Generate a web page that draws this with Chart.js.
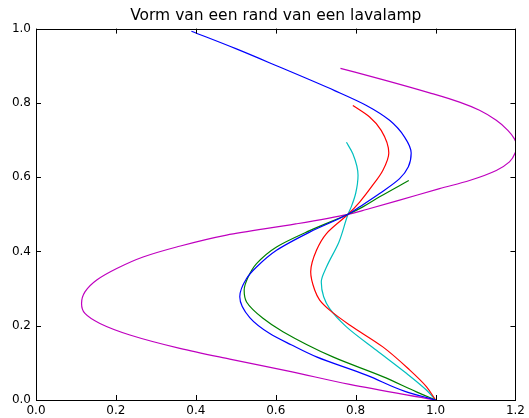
<!DOCTYPE html>
<html>
<head>
<meta charset="utf-8">
<script src="https://cdn.jsdelivr.net/npm/chart.js@4/dist/chart.umd.min.js"></script>
<style>
  html, body { margin: 0; padding: 0; background: #fff; }
  #wrap { width: 529px; height: 418px; }
</style>
</head>
<body>
<div id="wrap"><canvas id="myChart" width="529" height="418"></canvas></div>
<script>
// Values (x against height y)
const blueX  = [0.389, 0.50, 0.602, 0.7475, 0.827, 0.885, 0.9225, 0.939, 0.932, 0.91, 0.86, 0.81, 0.781, 0.685, 0.602, 0.552, 0.527, 0.51, 0.535, 0.585, 0.64, 0.702, 0.827, 0.927, 1.0];
const blueY  = [0.993, 0.946, 0.90, 0.833, 0.793, 0.753, 0.708, 0.665, 0.628, 0.596, 0.556, 0.52, 0.50, 0.452, 0.403, 0.358, 0.327, 0.278, 0.222, 0.179, 0.148, 0.116, 0.067, 0.022, 0.0];

const greenX = [0.933, 0.86, 0.818, 0.781, 0.685, 0.602, 0.552, 0.531, 0.521, 0.527, 0.568, 0.618, 0.743, 0.868, 0.952, 1.0];
const greenY = [0.591, 0.547, 0.52, 0.50, 0.456, 0.412, 0.367, 0.331, 0.296, 0.264, 0.22, 0.184, 0.116, 0.063, 0.022, 0.0];

const redX   = [0.793, 0.835, 0.864, 0.883, 0.868, 0.839, 0.81, 0.781, 0.727, 0.702, 0.6875, 0.6975, 0.71, 0.735, 0.785, 0.868, 0.935, 0.977, 1.0];
const redY   = [0.793, 0.762, 0.726, 0.665, 0.618, 0.573, 0.533, 0.50, 0.448, 0.403, 0.345, 0.296, 0.269, 0.242, 0.202, 0.143, 0.081, 0.036, 0.0];

const cyanX  = [0.777, 0.793, 0.806, 0.80, 0.789, 0.781, 0.758, 0.727, 0.714, 0.72, 0.735, 0.777, 0.852, 0.927, 0.977, 1.0];
const cyanY  = [0.694, 0.663, 0.605, 0.556, 0.52, 0.50, 0.425, 0.358, 0.318, 0.278, 0.246, 0.197, 0.134, 0.072, 0.027, 0.0];

const magX   = [0.762, 0.87, 0.985, 1.06, 1.11, 1.152, 1.181, 1.1975, 1.203, 1.20, 1.185, 1.152, 1.085, 1.01, 0.91, 0.827, 0.781, 0.65, 0.477, 0.352, 0.268, 0.202, 0.152, 0.1225, 0.114, 0.1225, 0.16, 0.235, 0.36, 0.485, 0.635, 0.785, 1.0];
const magY   = [0.893, 0.862, 0.827, 0.802, 0.78, 0.753, 0.726, 0.703, 0.685, 0.667, 0.641, 0.618, 0.591, 0.569, 0.538, 0.513, 0.50, 0.474, 0.444, 0.412, 0.385, 0.354, 0.323, 0.291, 0.26, 0.233, 0.206, 0.175, 0.139, 0.110, 0.077, 0.042, 0.0];

const xTicks = [0.0, 0.2, 0.4, 0.6, 0.8, 1.0, 1.2];
const yTicks = [0.0, 0.2, 0.4, 0.6, 0.8, 1.0];

function toPoints(xs, ys) {
    return xs.map((x, i) => ({ x: x, y: ys[i] }));
}

// each curve is x as a function of y, so interpolate along the y axis
function line(label, xs, ys, color) {
    return {
        label: label,
        data: toPoints(xs, ys),
        borderColor: color,
        backgroundColor: color,
        borderWidth: 1.2,
        pointRadius: 0,
        cubicInterpolationMode: 'monotone',
        fill: false
    };
}

// Box round the plot, ticks pointing inward on all four sides
const boxTicks = {
    id: 'boxTicks',
    afterDatasetsDraw(chart) {
        const ctx = chart.ctx;
        const a = chart.chartArea;
        const xs = chart.scales.x, ys = chart.scales.y;
        const len = 5;
        ctx.save();
        ctx.strokeStyle = '#000';
        ctx.lineWidth = 1;
        ctx.beginPath();
        xs.ticks.forEach(t => {
            const px = Math.round(xs.getPixelForValue(t.value)) + 0.5;
            ctx.moveTo(px, a.bottom); ctx.lineTo(px, a.bottom - len);
            ctx.moveTo(px, a.top); ctx.lineTo(px, a.top + len);
        });
        ys.ticks.forEach(t => {
            const py = Math.round(ys.getPixelForValue(t.value)) + 0.5;
            ctx.moveTo(a.left, py); ctx.lineTo(a.left + len, py);
            ctx.moveTo(a.right, py); ctx.lineTo(a.right - len, py);
        });
        ctx.stroke();
        ctx.strokeRect(Math.round(a.left) + 0.5, Math.round(a.top) + 0.5,
                       Math.round(a.right - a.left), Math.round(a.bottom - a.top));
        ctx.restore();
    }
};

const ctx = document.getElementById('myChart').getContext('2d');
const myChart = new Chart(ctx, {
    type: 'line',
    data: {
        datasets: [
            line('blue', blueX, blueY, '#0000ff'),
            line('green', greenX, greenY, '#008000'),
            line('red', redX, redY, '#ff0000'),
            line('cyan', cyanX, cyanY, '#00bfbf'),
            line('magenta', magX, magY, '#bf00bf')
        ]
    },
    options: {
        responsive: false,
        animation: false,
        indexAxis: 'y',
        layout: { padding: { left: 0, right: 13, top: 0, bottom: 0 } },
        plugins: {
            legend: { display: false },
            tooltip: { enabled: false },
            title: {
                display: true,
                fullSize: false,
                text: 'Vorm van een rand van een lavalamp',
                color: '#000',
                font: { family: 'DejaVu Sans', size: 15.5, weight: 'normal' },
                padding: { top: 7, bottom: 3 }
            }
        },
        scales: {
            x: {
                type: 'linear',
                axis: 'x',
                position: 'bottom',
                min: 0, max: 1.2,
                afterBuildTicks: s => { s.ticks = xTicks.map(v => ({ value: v })); },
                afterFit: s => { s.height = 18; },
                grid: { display: false, drawTicks: false },
                border: { display: false },
                ticks: {
                    color: '#000',
                    padding: 4,
                    maxRotation: 0,
                    autoSkip: false,
                    font: { family: 'DejaVu Sans', size: 12 },
                    callback: v => v.toFixed(1)
                }
            },
            y: {
                type: 'linear',
                axis: 'y',
                position: 'left',
                min: 0, max: 1.0,
                afterBuildTicks: s => { s.ticks = yTicks.map(v => ({ value: v })); },
                afterFit: s => { s.width = 36; },
                grid: { display: false, drawTicks: false },
                border: { display: false },
                ticks: {
                    color: '#000',
                    padding: 5,
                    autoSkip: false,
                    font: { family: 'DejaVu Sans', size: 12 },
                    callback: v => v.toFixed(1)
                }
            }
        }
    },
    plugins: [boxTicks]
});
</script>
</body>
</html>
